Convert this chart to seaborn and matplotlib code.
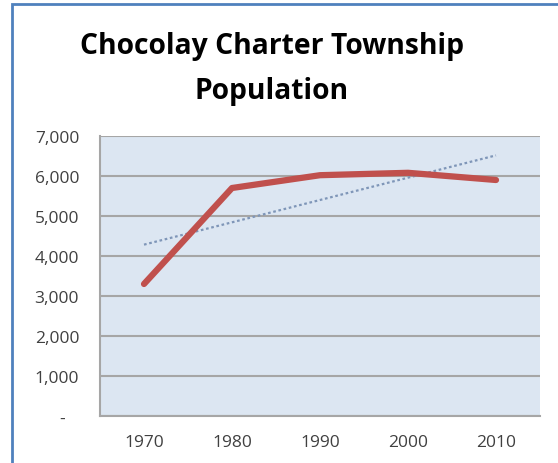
import numpy as np
import pandas as pd
import matplotlib
matplotlib.use("Agg")
import matplotlib.pyplot as plt
import seaborn as sns
from matplotlib.patches import Rectangle

# Data
years = ["1970", "1980", "1990", "2000", "2010"]
population = [3300, 5700, 6020, 6080, 5900]
y_ticks = [0, 1000, 2000, 3000, 4000, 5000, 6000, 7000]
y_labels = ["-   ", "1,000", "2,000", "3,000", "4,000", "5,000", "6,000", "7,000"]

df = pd.DataFrame({"Year": years, "Population": population})

sns.set_style("white")
plt.rcParams["font.family"] = ["Open Sans", "DejaVu Sans"]

fig = plt.figure(figsize=(5.58, 4.64), dpi=100)
ax = fig.add_axes([100 / 558, 1 - 417 / 464, 440 / 558, 280 / 464])
ax.set_facecolor("#dce6f2")

sns.lineplot(data=df, x="Year", y="Population", ax=ax, color="#c0504d",
             linewidth=4.5, solid_capstyle="round", solid_joinstyle="round",
             sort=False, zorder=3)

# linear trendline
xs = np.arange(len(years))
m, b = np.polyfit(xs, population, 1)
ax.plot(xs, m * xs + b, linestyle=(0, (1.2, 1.2)), color="#7f96b8",
        linewidth=1.6, zorder=2)

ax.set_xlim(-0.5, len(years) - 0.5)
ax.set_ylim(0, 7000)
ax.set_yticks(y_ticks)
ax.set_yticklabels(y_labels)
ax.set_xlabel("")
ax.set_ylabel("")
ax.yaxis.grid(True, color="#a6a6a6", linewidth=1.5)
ax.set_axisbelow(True)
ax.tick_params(axis="both", length=0, labelsize=12.5, labelcolor="#404040")
ax.tick_params(axis="y", pad=15)
ax.tick_params(axis="x", pad=13)
for s in ["top", "right"]:
    ax.spines[s].set_visible(False)
for s in ["left", "bottom"]:
    ax.spines[s].set_color("#a6a6a6")
    ax.spines[s].set_linewidth(1.5)

fig.text(272 / 558, 1 - 47 / 464, "Chocolay Charter Township", ha="center",
         va="center", fontsize=20.3, fontweight="bold", color="black")
fig.text(272 / 558, 1 - 92 / 464, "Population", ha="center",
         va="center", fontsize=20.3, fontweight="bold", color="black")

# chart frame
fig.patches.append(Rectangle((12 / 558, -0.1), 1.2, 1 - 5 / 464 + 0.1,
                             transform=fig.transFigure, fill=False,
                             edgecolor="#4f81bd", linewidth=2))

fig.savefig("out.png", dpi=100)
